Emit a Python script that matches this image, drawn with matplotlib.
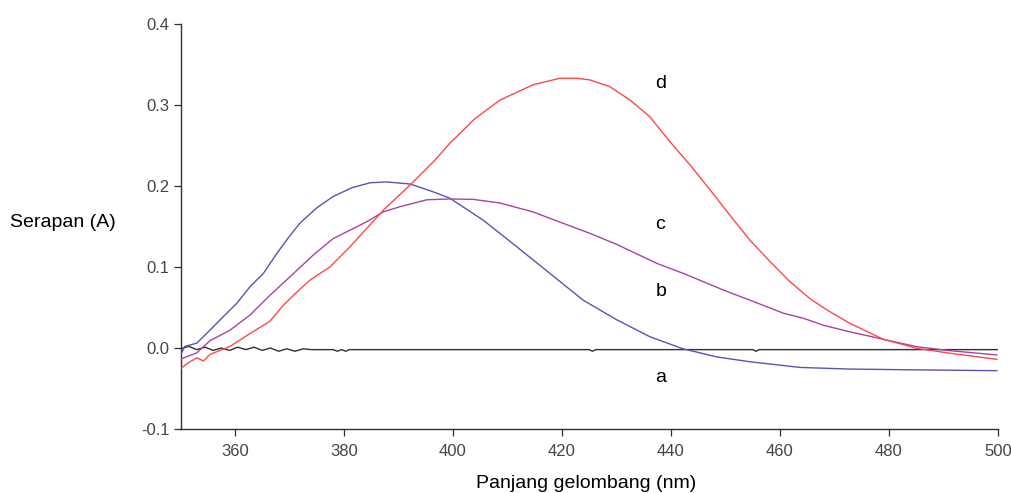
import matplotlib
matplotlib.use('Agg')
import matplotlib.pyplot as plt

# ── data ──────────────────────────────────────────────────────────────────────
wl_a = [350, 351.5, 353, 354.5, 356, 357.5, 359, 360.5, 362, 363.5, 365, 366.5,
        368, 369.5, 371, 372.5, 374, 378, 378.8, 379.5, 380.3, 381, 400, 420,
        425, 425.6, 426.2, 450, 455, 455.6, 456.2, 500]
abs_a = [-0.001, 0.002, -0.002, 0.001, -0.003, 0.000, -0.003, 0.001, -0.002,
         0.001, -0.003, 0.000, -0.004, -0.001, -0.004, -0.001, -0.002, -0.002,
         -0.004, -0.002, -0.004, -0.002, -0.002, -0.002, -0.002, -0.004, -0.002,
         -0.002, -0.002, -0.004, -0.002, -0.002]

wl_b = [349.9, 350.8, 353.0, 355.4, 357.9, 360.3, 362.8, 365.2, 367.6, 370.0,
        371.9, 375.0, 378.0, 381.5, 384.8, 387.8, 392.1, 396.3, 399.4, 405.5,
        411.7, 417.8, 423.9, 430.0, 436.1, 442.2, 448.4, 454.5, 463.7, 472.8,
        485.1, 499.8]
abs_b = [-0.010, 0.002, 0.006, 0.022, 0.039, 0.055, 0.076, 0.092, 0.116, 0.138,
         0.154, 0.173, 0.187, 0.198, 0.204, 0.205, 0.2025, 0.193, 0.185, 0.158,
         0.125, 0.092, 0.059, 0.035, 0.014, -0.001, -0.011, -0.017, -0.024, -0.026,
         -0.027, -0.028]

wl_c = [349.9, 353.0, 355.4, 359.1, 362.8, 366.4, 370.1, 374.4, 378.0, 384.2,
        387.2, 390.3, 395.2, 399.4, 403.7, 408.6, 414.7, 417.8, 425.1, 430.0,
        437.4, 442.3, 449.6, 454.5, 460.6, 464.3, 468.0, 472.8, 479.0, 485.1,
        491.2, 499.8]
abs_c = [-0.014, -0.006, 0.009, 0.022, 0.041, 0.065, 0.088, 0.115, 0.135, 0.156,
         0.168, 0.1745, 0.183, 0.184, 0.1835, 0.179, 0.168, 0.160, 0.1416, 0.128,
         0.1045, 0.092, 0.0716, 0.059, 0.043, 0.0367, 0.028, 0.020, 0.0107, 0.0016,
         -0.0033, -0.0086]

wl_d = [349.9, 351.5, 353.0, 354.2, 355.4, 359.1, 362.8, 366.4, 368.9, 370.7,
        373.8, 377.4, 381.1, 387.2, 392.7, 396.7, 399.4, 404.0, 408.6, 414.7,
        419.6, 422.7, 425.1, 428.8, 432.5, 436.1, 439.8, 443.5, 447.2, 450.8,
        454.5, 458.2, 461.8, 465.5, 468.6, 472.8, 479.0, 485.1, 491.2, 499.8]
abs_d = [-0.026, -0.018, -0.012, -0.016, -0.008, 0.002, 0.018, 0.033, 0.053, 0.065,
         0.084, 0.100, 0.125, 0.170, 0.205, 0.232, 0.2527, 0.283, 0.306, 0.325,
         0.333, 0.333, 0.331, 0.3226, 0.306, 0.2856, 0.2547, 0.226, 0.195, 0.164,
         0.133, 0.1065, 0.082, 0.061, 0.047, 0.0305, 0.0107, -0.0004, -0.0065, -0.014]

series = [
    ('a', wl_a, abs_a, '#303030', -0.037),
    ('b', wl_b, abs_b, '#5555b5', 0.070),
    ('c', wl_c, abs_c, '#a545a5', 0.153),
    ('d', wl_d, abs_d, '#ff4848', 0.326),
]
label_x = 437.1

x_ticks = [360, 380, 400, 420, 440, 460, 480, 500]
y_ticks = [-0.1, 0.0, 0.1, 0.2, 0.3, 0.4]

TICK_FONT = ['Liberation Sans Narrow', 'Liberation Sans', 'DejaVu Sans']
TEXT_FONT = ['Liberation Sans', 'DejaVu Sans']
COLOR_TICK = '#454545'

fig = plt.figure(figsize=(10.11, 4.93), dpi=100)
ax = fig.add_axes([180.5 / 1011, 1 - 429 / 493, (998 - 180.5) / 1011, (429 - 24) / 493])

for name, wl, ab, c, ly in series:
    ax.plot(wl, ab, color=c, linewidth=1.0, zorder=3)
    ax.text(label_x, ly, name, ha='left', va='center', fontsize=14,
            family=TEXT_FONT, color='black')

ax.set_xlim(350, 500)
ax.set_ylim(-0.1, 0.4)
ax.set_xticks(x_ticks)
ax.set_yticks(y_ticks)
ax.set_xticklabels([str(t) for t in x_ticks], family=TICK_FONT, fontsize=12, color=COLOR_TICK)
ax.set_yticklabels([f'{t:.1f}' for t in y_ticks], family=TICK_FONT, fontsize=12, color=COLOR_TICK)
ax.tick_params(direction='out', length=5, width=0.9, color='#303030', pad=3)
ax.tick_params(axis='x', pad=6)

for s in ('top', 'right'):
    ax.spines[s].set_visible(False)
for s in ('left', 'bottom'):
    ax.spines[s].set_color('#303030')
    ax.spines[s].set_linewidth(1.0)

fig.text(10 / 1011, 1 - 222 / 493, 'Serapan (A)', ha='left', va='center',
         fontsize=14, family=TEXT_FONT, color='black')
fig.text(586 / 1011, 1 - 484 / 493, 'Panjang gelombang (nm)', ha='center', va='center',
         fontsize=14, family=TEXT_FONT, color='black')

fig.savefig('out.png', dpi=100, facecolor='white')
